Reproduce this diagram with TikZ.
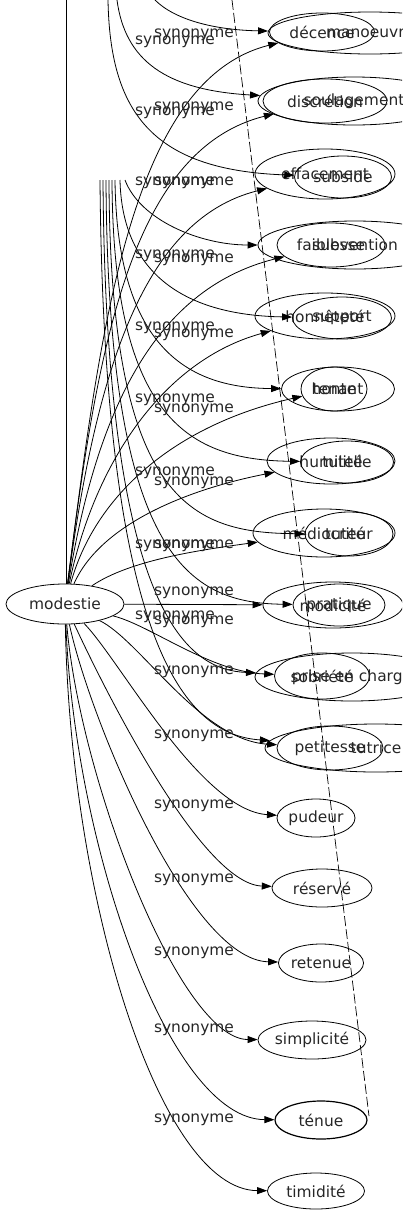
\documentclass[tikz,border=0pt]{standalone}
\usepackage{fontspec}
\setmainfont{DejaVu Sans}
\usetikzlibrary{arrows.meta,shapes.geometric}
\begin{document}
\begin{tikzpicture}[x=1bp,y=-1bp,
  every node/.style={font=\fontsize{15.5}{18}\selectfont, text=black!85},
  nd/.style={ellipse, draw, line width=0.8bp, inner sep=0pt},
  lbl/.style={inner sep=0pt},
  edge/.style={draw, line width=0.8bp, -{Triangle[length=10bp,width=7bp]}},
  plainline/.style={draw, line width=0.8bp},
  dline/.style={draw, line width=0.7bp, dash pattern=on 10bp off 3bp}]
\useasboundingbox (0,0) rectangle (402,1211);
\clip (0,0) rectangle (402,1211);

% hub
\node[nd, minimum width=118bp, minimum height=40bp] (modestie) at (65,604) {modestie};

% overlapping rows
\node[nd, minimum width=105bp, minimum height=38bp] (m1) at (322,32) {décence};
\node[nd, minimum width=204bp, minimum height=42bp] (s1) at (370,33) {manoeuvre};
\node[nd, minimum width=124bp, minimum height=44bp] (m2) at (325,101) {discrétion};
\node[nd, minimum width=192bp, minimum height=48bp] (s2) at (354,101) {soulagement};
\node[nd, minimum width=140bp, minimum height=50bp] (m3) at (325,174) {effacement};
\node[nd, minimum width=97bp, minimum height=42bp] (s3) at (343,177) {subside};
\node[nd, minimum width=108bp, minimum height=44bp] (m4) at (331,245) {faiblesse};
\node[nd, minimum width=194bp, minimum height=48bp] (s4) at (355,245) {subvention};
\node[nd, minimum width=140bp, minimum height=46bp] (m5) at (325,316) {honnêteté};
\node[nd, minimum width=99bp, minimum height=42bp] (s5) at (342,318) {support};
\node[nd, minimum width=66bp, minimum height=44bp] (m6) at (334,389) {honte};
\node[nd, minimum width=113bp, minimum height=44bp] (s6) at (338,389) {tenant};
\node[nd, minimum width=128bp, minimum height=46bp] (m7) at (331,461) {humilité};
\node[nd, minimum width=93bp, minimum height=42bp] (s7) at (347,462) {tutelle};
\node[nd, minimum width=142bp, minimum height=48bp] (m8) at (324,533) {médiocrité};
\node[nd, minimum width=88bp, minimum height=44bp] (s8) at (349,534) {tuteur};
\node[nd, minimum width=140bp, minimum height=46bp] (m9) at (333,605) {modicité};
\node[nd, minimum width=92bp, minimum height=42bp] (s9) at (339,605) {pratique};
\node[nd, minimum width=95bp, minimum height=46bp] (m10) at (322,676) {sobriété};
\node[nd, minimum width=194bp, minimum height=48bp] (s10) at (352,677) {prise en charge};
\node[nd, minimum width=106bp, minimum height=44bp] (m11) at (330,748) {petitesse};
\node[nd, minimum width=222bp, minimum height=48bp] (s11) at (376,748) {tutrice};

% lower nodes
\node[nd, minimum width=78bp, minimum height=38bp] (pudeur) at (316,818) {pudeur};
\node[nd, minimum width=100bp, minimum height=38bp] (reserve) at (322,888) {réservé};
\node[nd, minimum width=84bp, minimum height=38bp] (retenue) at (321,963) {retenue};
\node[nd, minimum width=108bp, minimum height=38bp] (simplicite) at (312,1040) {simplicité};
\node[nd, minimum width=92bp, minimum height=38bp, line width=1.2bp] (tenue) at (321,1120) {ténue};
\node[nd, minimum width=97bp, minimum height=36bp] (timidite) at (316,1191) {timidité};

% free ends
\coordinate (v0) at (66,0);
\coordinate (d0) at (232,0);
\coordinate (d1) at (369,1116);
\coordinate (t1) at (155,0);
\coordinate (t2) at (117,0);
\coordinate (t3) at (108,0);
\coordinate (b4) at (125,180);
\coordinate (b5) at (120,180);
\coordinate (b6) at (115,180);
\coordinate (b7) at (112,180);
\coordinate (b8) at (109,180);
\coordinate (b9) at (106,180);
\coordinate (b10) at (103,180);
\coordinate (b11) at (100,180);

\draw[plainline] (v0) -- (v0 |- modestie.north);
\draw[dline] (d0) -- (d1);

% edges from modestie
\draw[edge] (modestie) .. controls (100,330) and (130,80) .. (m1);
\draw[edge] (modestie) .. controls (97,350) and (130,150) .. (m2);
\draw[edge] (modestie) .. controls (95,380) and (140,220) .. (m3);
\draw[edge] (modestie) .. controls (95,420) and (150,290) .. (m4);
\draw[edge] (modestie) .. controls (95,460) and (165,360) .. (m5);
\draw[edge] (modestie) .. controls (95,495) and (175,425) .. (m6);
\draw[edge] (modestie) .. controls (100,525) and (185,490) .. (m7);
\draw[edge] (modestie) .. controls (130,560) and (200,550) .. (m8);
\draw[edge] (modestie) -- (m9);
\draw[edge] (modestie) .. controls (150,625) and (210,672) .. (m10);
\draw[edge] (modestie) .. controls (140,640) and (200,740) .. (m11);
\draw[edge] (modestie) .. controls (120,660) and (200,810) .. (pudeur);
\draw[edge] (modestie) .. controls (100,680) and (200,884) .. (reserve);
\draw[edge] (modestie) .. controls (90,720) and (190,960) .. (retenue);
\draw[edge] (modestie) .. controls (80,780) and (180,1039) .. (simplicite);
\draw[edge] (modestie) .. controls (75,850) and (170,1119) .. (tenue);
\draw[edge] (modestie) .. controls (70,900) and (160,1190) .. (timidite);

% edges of the second set
\draw[edge] (t1) .. controls (175,20) and (215,30) .. (s1);
\draw[edge] (t2) .. controls (125,60) and (165,90) .. (s2);
\draw[edge] (t3) .. controls (110,110) and (150,170) .. (s3);
\draw[edge] (b4) .. controls (140,220) and (200,245) .. (s4);
\draw[edge] (b5) .. controls (122,270) and (180,315) .. (s5);
\draw[edge] (b6) .. controls (117,350) and (190,388) .. (s6);
\draw[edge] (b7) .. controls (113,420) and (190,460) .. (s7);
\draw[edge] (b8) .. controls (110,500) and (190,533) .. (s8);
\draw[edge] (b9) .. controls (108,560) and (190,603) .. (s9);
\draw[edge] (b10) .. controls (106,620) and (190,670) .. (s10);
\draw[edge] (b11) .. controls (104,660) and (190,735) .. (s11);

% labels of modestie edges
\foreach \yy/\nm in {35/a1,108/a2,183/a3,260/a4,335/a5,410/a6,483/a7,546/a8,593/a9,622/a10,672/a11,736/a12,806/a13,880/a14,953/a15,1030/a16,1120/a17}
  \node[lbl] (\nm) at (194,\yy) {synonyme};
% labels of the second set
\foreach \yy/\nm in {42/c1,113/c2,183/c3,256/c4,328/c5,400/c6,473/c7,546/c8,617/c9}
  \node[lbl] (\nm) at (175,\yy) {synonyme};
\end{tikzpicture}
\end{document}
